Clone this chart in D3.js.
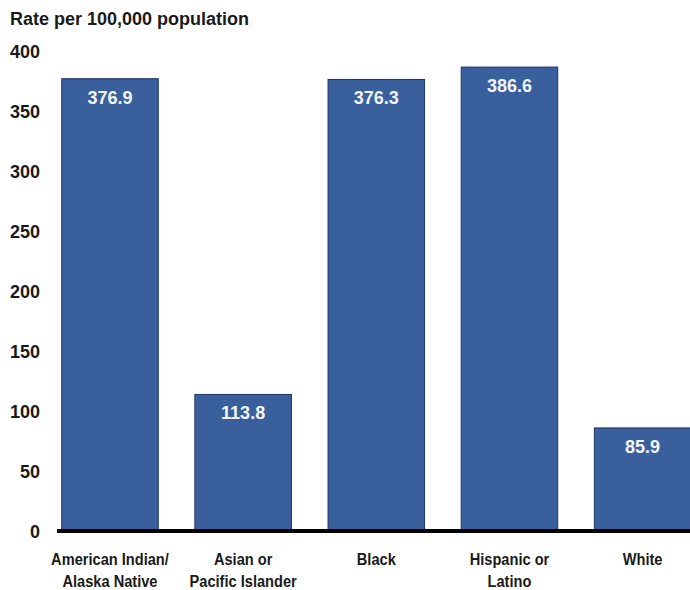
<!DOCTYPE html>
<html>
<head>
<meta charset="utf-8">
<script src="https://cdn.jsdelivr.net/npm/d3@7"></script>
<style>
  html, body { margin: 0; padding: 0; background: #ffffff; }
  svg { display: block; font-family: "Liberation Sans", Arial, sans-serif; }
</style>
</head>
<body>
<svg id="chart" width="690" height="590"></svg>
<script>
const categories = ["American Indian/\nAlaska Native", "Asian or\nPacific Islander", "Black", "Hispanic or\nLatino", "White"];
const rates = [376.9, 113.8, 376.3, 386.6, 85.9];
const rateLabels = ["376.9", "113.8", "376.3", "386.6", "85.9"];
const yTicks = [0, 50, 100, 150, 200, 250, 300, 350, 400];
const yTitle = "Rate per 100,000 population";

const svg = d3.select("#chart");

const x = d3.scaleBand()
  .domain(categories)
  .range([43.4, 709.2])
  .paddingInner(0.275)
  .paddingOuter(0.1375);

const y = d3.scaleLinear()
  .domain([0, 400])
  .range([531, 51]);

// y axis labels (no line, no ticks)
const yAxis = d3.axisLeft(y).tickValues(yTicks).tickSize(0).tickPadding(0);
const gy = svg.append("g").attr("transform", "translate(40,0)").call(yAxis);
gy.select(".domain").remove();
gy.selectAll("text")
  .attr("font-family", "Liberation Sans, Arial, sans-serif")
  .attr("font-size", 18)
  .attr("font-weight", "bold")
  .attr("fill", "#1a1a1a")
  .attr("dy", "0.36em");

// title
svg.append("text")
  .attr("x", 10)
  .attr("y", 25)
  .attr("font-size", 18)
  .attr("font-weight", "bold")
  .attr("fill", "#1a1a1a")
  .text(yTitle);

// bars
svg.append("g").selectAll("rect")
  .data(categories)
  .join("rect")
  .attr("x", d => x(d))
  .attr("width", x.bandwidth())
  .attr("y", (d, i) => y(rates[i]))
  .attr("height", (d, i) => y(0) - y(rates[i]))
  .attr("fill", "#3a5f9d")
  .attr("stroke", "#1e3560")
  .attr("stroke-width", 1);

// value labels
svg.append("g").selectAll("text")
  .data(categories)
  .join("text")
  .attr("x", d => x(d) + x.bandwidth() / 2)
  .attr("y", (d, i) => y(rates[i]) + 25)
  .attr("text-anchor", "middle")
  .attr("font-size", 18)
  .attr("font-weight", "bold")
  .attr("fill", "#f2f5fa")
  .text((d, i) => rateLabels[i]);

// baseline
svg.append("line")
  .attr("x1", 57).attr("x2", 700)
  .attr("y1", y(0)).attr("y2", y(0))
  .attr("stroke", "#000")
  .attr("stroke-width", 4);

// category labels
const cg = svg.append("g").selectAll("g")
  .data(categories)
  .join("g")
  .attr("transform", d => `translate(${x(d) + x.bandwidth() / 2},565) scale(0.86,1)`);
cg.each(function(d) {
  const lines = d.split("\n");
  d3.select(this).selectAll("text")
    .data(lines)
    .join("text")
    .attr("x", 0)
    .attr("y", (l, j) => j * 22)
    .attr("text-anchor", "middle")
    .attr("font-size", 17)
    .attr("font-weight", "bold")
    .attr("fill", "#1a1a1a")
    .text(l => l);
});
</script>
</body>
</html>
